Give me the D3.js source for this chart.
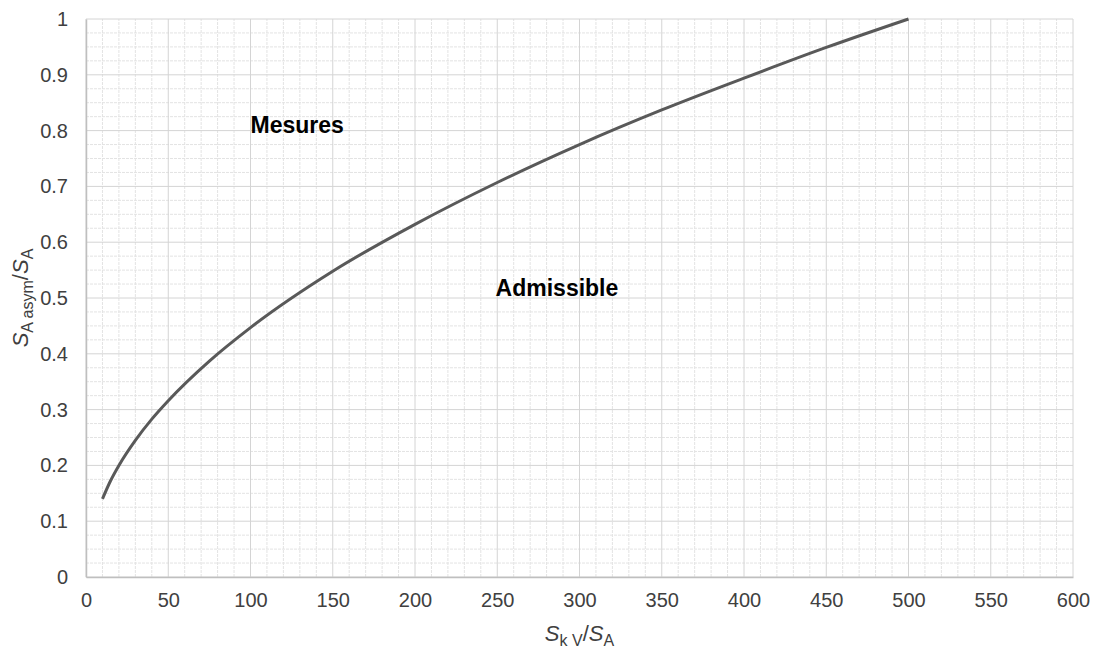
<!DOCTYPE html>
<html>
<head>
<meta charset="utf-8">
<script src="https://cdn.jsdelivr.net/npm/d3@7"></script>
<style>
  body { margin: 0; background: #fff; }
  svg { font-family: "Liberation Sans", Arial, sans-serif; }
</style>
</head>
<body>
<div id="chart"></div>
<script>
// values
const xValues = [10, 15, 20, 30, 40, 50, 75, 100, 150, 200, 250, 300, 350, 400, 450, 500];
const yValues = [0.14, 0.173, 0.2, 0.245, 0.283, 0.316, 0.387, 0.447, 0.548, 0.632, 0.707, 0.775, 0.837, 0.894, 0.949, 1.0];
const xTicks = [0, 50, 100, 150, 200, 250, 300, 350, 400, 450, 500, 550, 600];
const yTicks = [0, 0.1, 0.2, 0.3, 0.4, 0.5, 0.6, 0.7, 0.8, 0.9, 1];
const regionLabels = [
    { text: "Mesures", x: 100, y: 0.796 },
    { text: "Admissible", x: 249, y: 0.503 }
];

const width = 1097, height = 650;
const margin = { top: 19, right: 24, bottom: 73, left: 86 };

const svg = d3.select("#chart").append("svg")
    .attr("width", width)
    .attr("height", height);

const xScale = d3.scaleLinear()
    .domain([0, 600])
    .range([margin.left, width - margin.right]);
const yScale = d3.scaleLinear()
    .domain([0, 1])
    .range([height - margin.bottom, margin.top]);

// minor grid
const grid = svg.append("g");
grid.selectAll("line.minx")
    .data(d3.range(0, 601, 10).filter(v => v % 50 != 0))
    .enter().append("line")
        .attr("x1", d => xScale(d)).attr("x2", d => xScale(d))
        .attr("y1", yScale(0)).attr("y2", yScale(1))
        .attr("stroke", "#e3e3e3").attr("stroke-dasharray", "3,1");
grid.selectAll("line.miny")
    .data(d3.range(0, 41).map(i => i * 0.025).filter((v, i) => i % 4 != 0))
    .enter().append("line")
        .attr("y1", d => yScale(d)).attr("y2", d => yScale(d))
        .attr("x1", xScale(0)).attr("x2", xScale(600))
        .attr("stroke", "#e3e3e3").attr("stroke-dasharray", "3,1");

// major grid
grid.selectAll("line.majx")
    .data(xTicks)
    .enter().append("line")
        .attr("x1", d => xScale(d)).attr("x2", d => xScale(d))
        .attr("y1", yScale(0)).attr("y2", yScale(1))
        .attr("stroke", "#d4d4d4");
grid.selectAll("line.majy")
    .data(yTicks)
    .enter().append("line")
        .attr("y1", d => yScale(d)).attr("y2", d => yScale(d))
        .attr("x1", xScale(0)).attr("x2", xScale(600))
        .attr("stroke", "#d4d4d4");

// axes
const xAxis = d3.axisBottom(xScale).tickValues(xTicks).tickSize(0).tickPadding(16);
const yAxis = d3.axisLeft(yScale).tickValues(yTicks).tickSize(0).tickPadding(18)
    .tickFormat(d => d3.format("~g")(d));

const gx = svg.append("g")
    .attr("transform", `translate(0,${yScale(0)})`)
    .call(xAxis);
const gy = svg.append("g")
    .attr("transform", `translate(${xScale(0)},0)`)
    .call(yAxis);

for (let g of [gx, gy]) {
    g.select(".domain").attr("stroke", "#bfbfbf").attr("stroke-width", 1.5);
    g.selectAll("text").attr("font-size", 20).attr("fill", "#404040")
        .attr("font-family", "'Liberation Sans', Arial, sans-serif");
}

// curve
const points = xValues.map((x, i) => ({ x: x, y: yValues[i] }));
const line = d3.line()
    .x(d => xScale(d.x))
    .y(d => yScale(d.y))
    .curve(d3.curveMonotoneX);

svg.append("path")
    .datum(points)
    .attr("d", line)
    .attr("fill", "none")
    .attr("stroke", "#595959")
    .attr("stroke-width", 3);

// region labels
svg.selectAll("text.region")
    .data(regionLabels)
    .enter().append("text")
        .attr("class", "region")
        .attr("x", d => xScale(d.x))
        .attr("y", d => yScale(d.y))
        .attr("font-size", 23)
        .attr("font-weight", "bold")
        .attr("fill", "#000")
        .text(d => d.text);

// axis titles
const xTitle = svg.append("text")
    .attr("x", xScale(300))
    .attr("y", 641)
    .attr("text-anchor", "middle")
    .attr("font-size", 22)
    .attr("fill", "#404040");
xTitle.append("tspan").attr("font-style", "italic").text("S");
xTitle.append("tspan").attr("font-size", 16).attr("dy", 5).text("k V");
xTitle.append("tspan").attr("dy", -5).text("/");
xTitle.append("tspan").attr("font-style", "italic").text("S");
xTitle.append("tspan").attr("font-size", 16).attr("dy", 5).text("A");

const yTitle = svg.append("text")
    .attr("transform", `translate(28,${yScale(0.5)}) rotate(-90)`)
    .attr("text-anchor", "middle")
    .attr("font-size", 22)
    .attr("fill", "#404040");
yTitle.append("tspan").attr("font-style", "italic").text("S");
yTitle.append("tspan").attr("font-size", 16).attr("dy", 5).text("A asym");
yTitle.append("tspan").attr("dy", -5).text("/");
yTitle.append("tspan").attr("font-style", "italic").text("S");
yTitle.append("tspan").attr("font-size", 16).attr("dy", 5).text("A");
</script>
</body>
</html>
